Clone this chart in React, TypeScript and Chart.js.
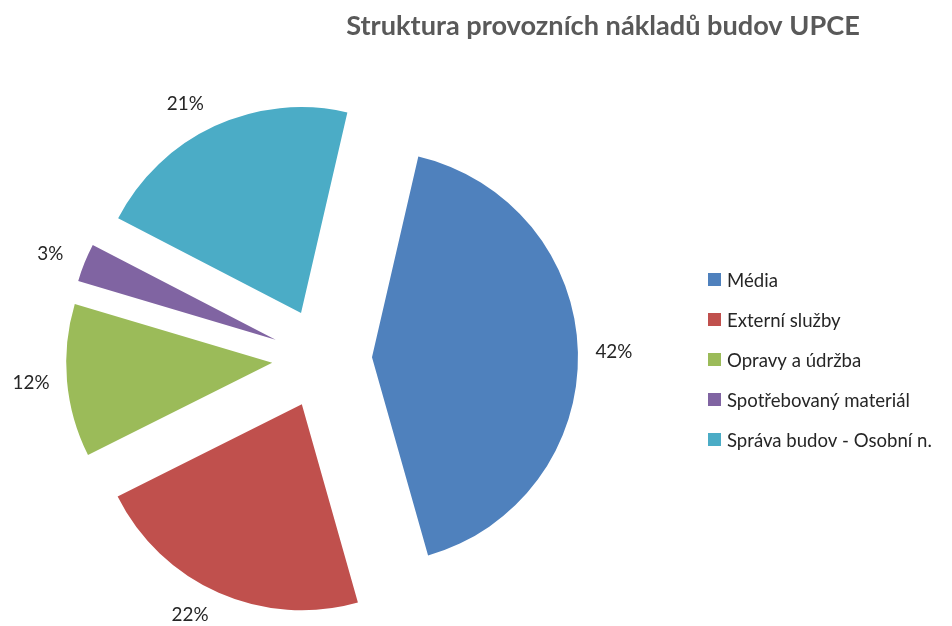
import React, { useEffect, useRef } from 'react';
import { Chart, registerables } from 'chart.js';

Chart.register(...registerables);

const titleText = 'Struktura provozních nákladů budov UPCE';
const categories = ['Média', 'Externí služby', 'Opravy a údržba', 'Spotřebovaný materiál', 'Správa budov - Osobní n.'];
const shares = [42, 22, 12, 3, 21];
const colors = ['#4F81BD', '#C0504D', '#9BBB59', '#8064A2', '#4BACC6'];

const EXPLODE = 50;
const RADIUS = 206;
const FONT = 'Lato, Calibri, "Open Sans", sans-serif';

function fitSize(ctx: CanvasRenderingContext2D, text: string, weight: string, target: number) {
  const base = 20;
  ctx.font = `${weight} ${base}px ${FONT}`;
  const w = ctx.measureText(text).width;
  return (base * target) / w;
}

const explodePlugin = {
  id: 'explodeAndText',
  beforeDatasetDraw(chart: any, args: any) {
    const ctx = chart.ctx as CanvasRenderingContext2D;
    args.meta.data.forEach((el: any) => {
      const mid = (el.startAngle + el.endAngle) / 2;
      ctx.save();
      ctx.translate(Math.cos(mid) * EXPLODE, Math.sin(mid) * EXPLODE);
      el.draw(ctx);
      ctx.restore();
    });
    return false;
  },
  afterDraw(chart: any) {
    const ctx = chart.ctx as CanvasRenderingContext2D;
    const meta = chart.getDatasetMeta(0);
    const values: number[] = chart.data.datasets[0].data;
    const total = values.reduce((a, b) => a + b, 0);

    // percentage labels (outside end)
    const labelSize = fitSize(ctx, '42%', 'normal', 37);
    ctx.save();
    ctx.font = `normal ${labelSize}px ${FONT}`;
    ctx.fillStyle = '#262626';
    ctx.textAlign = 'center';
    ctx.textBaseline = 'middle';
    meta.data.forEach((el: any, i: number) => {
      const mid = (el.startAngle + el.endAngle) / 2;
      const cx = el.x + Math.cos(mid) * EXPLODE;
      const cy = el.y + Math.sin(mid) * EXPLODE;
      const s = Math.sin(mid);
      const dx = el.outerRadius + 36 + 50 * s * s * s * s;
      const dy = el.outerRadius + 24;
      const pct = Math.round((values[i] / total) * 100) + '%';
      ctx.fillText(pct, cx + Math.cos(mid) * dx, cy + s * dy);
    });
    ctx.restore();

    // title
    const titleSize = fitSize(ctx, titleText, 'bold', 514);
    ctx.save();
    ctx.font = `bold ${titleSize}px ${FONT}`;
    ctx.fillStyle = '#595959';
    ctx.textAlign = 'center';
    ctx.textBaseline = 'alphabetic';
    ctx.fillText(titleText, 603, 35);
    ctx.restore();

    // legend
    const legendSize = fitSize(ctx, categories[4], 'normal', 205);
    ctx.save();
    ctx.font = `normal ${legendSize}px ${FONT}`;
    ctx.textAlign = 'left';
    ctx.textBaseline = 'middle';
    (chart.data.labels as string[]).forEach((lab, i) => {
      const y = 279.5 + i * 40;
      ctx.fillStyle = colors[i];
      ctx.fillRect(708, y - 6.5, 13, 13);
      ctx.fillStyle = '#262626';
      ctx.fillText(lab, 727, y + 1);
    });
    ctx.restore();
  },
};

export default function App() {
  const ref = useRef<HTMLCanvasElement | null>(null);
  useEffect(() => {
    if (!ref.current) return;
    const chart = new Chart(ref.current, {
      type: 'pie',
      data: {
        labels: categories,
        datasets: [
          {
            data: shares,
            backgroundColor: colors,
            borderWidth: 0,
            radius: RADIUS,
          } as any,
        ],
      },
      options: {
        responsive: false,
        animation: false,
        rotation: 13,
        layout: { padding: { left: 0, right: 308, top: 91, bottom: 0 } },
        plugins: {
          legend: { display: false },
          title: { display: false },
          tooltip: { enabled: false },
        },
        events: [],
      },
      plugins: [explodePlugin],
    });
    return () => chart.destroy();
  }, []);
  return (
    <div style={{ position: 'fixed', left: 0, top: 0, width: 952, height: 626, background: '#fff' }}>
      <canvas ref={ref} width={952} height={626} style={{ display: 'block' }} />
    </div>
  );
}
